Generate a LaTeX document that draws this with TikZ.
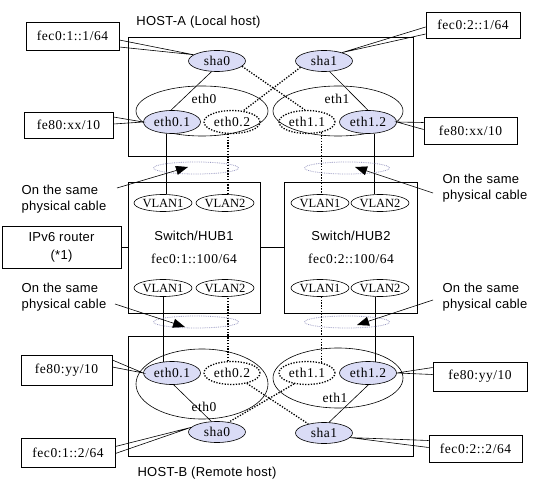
\documentclass[tikz,border=0pt]{standalone}
\usepackage{fontspec}
\setmainfont{Liberation Serif}[LetterSpace=4]
\newfontfamily\sansf{Liberation Sans}[LetterSpace=2]
\usetikzlibrary{shapes.geometric,arrows.meta}
\definecolor{lav}{RGB}{218,220,246}
\definecolor{cab}{RGB}{155,155,195}
\tikzset{
  every node/.style={inner sep=0pt},
  thinl/.style={line width=0.6pt},
  dotl/.style={line width=1.3pt,dash pattern=on 1.3pt off 1.5pt},
  box/.style={draw,line width=0.7pt,rectangle,fill=white},
  lbl/.style={box,font=\fontsize{13.5}{15}\selectfont},
  ipell/.style={ellipse,draw,line width=0.6pt,fill=lav,minimum width=57pt,minimum height=21pt,font=\fontsize{13.5}{15}\selectfont},
  vifon/.style={ellipse,draw,line width=0.6pt,fill=lav,minimum width=57pt,minimum height=23pt,font=\fontsize{13.5}{15}\selectfont},
  vifoff/.style={ellipse,draw,dotl,minimum width=56pt,minimum height=23pt,font=\fontsize{13.5}{15}\selectfont},
  phys/.style={ellipse,draw,line width=0.6pt},
  vlan/.style={ellipse,draw,line width=0.6pt,minimum width=48pt,minimum height=17pt,font=\fontsize{12.5}{14}\selectfont\addfontfeature{LetterSpace=0}},
  cable/.style={ellipse,draw=cab,line width=0.8pt,densely dotted,minimum width=85pt,minimum height=12pt},
  stxt/.style={font=\sansf\fontsize{13}{16}\selectfont},
  note/.style={stxt,align=left},
  arr/.style={line width=0.6pt,-{Triangle[length=12pt,width=9pt]}},
  serl/.style={font=\fontsize{13.5}{15}\selectfont},
}
\begin{document}
\begin{tikzpicture}[x=1pt,y=-1pt]
\useasboundingbox (0,0) rectangle (551,494);
% host boxes and switches
\node[box,minimum width=285pt,minimum height=119pt] (hosta) at (270.5,96.5) {};
\node[box,minimum width=285pt,minimum height=120pt] (hostb) at (270.5,396) {};
\node[stxt] (hostal) at (198.5,22) {HOST-A (Local host)};
\node[stxt] (hostbl) at (207,473) {HOST-B (Remote host)};
\node[box,minimum width=132pt,minimum height=131pt] (hub1) at (194,247.5) {};
\node[box,minimum width=133pt,minimum height=131pt] (hub2) at (350.5,247.5) {};
\node[stxt] (hub1n) at (194,236) {Switch/HUB1};
\node[serl] (hub1a) at (194,259) {fec0:1::100/64};
\node[stxt] (hub2n) at (351,236) {Switch/HUB2};
\node[serl] (hub2a) at (351,259) {fec0:2::100/64};
\node[box,minimum width=119pt,minimum height=42pt,stxt,align=center] (router) at (61.5,247) {IPv6 router\\[2pt](*1)};
\draw[thinl] (router.east) -- (router.east -| hub1.west);
\draw[thinl] (hub1.east) -- (hub2.west);
% VLANs
\node[vlan] (v11) at (163,203) {VLAN1};
\node[vlan] (v12) at (225,203) {VLAN2};
\node[vlan] (v21) at (320,203) {VLAN1};
\node[vlan] (v22) at (380,203) {VLAN2};
\node[vlan] (v13) at (163,288) {VLAN1};
\node[vlan] (v14) at (225,288) {VLAN2};
\node[vlan] (v23) at (320,288) {VLAN1};
\node[vlan] (v24) at (380,288) {VLAN2};
% HOST-A interfaces
\node[phys,minimum width=132pt,minimum height=50pt] (eth0a) at (202,111) {};
\node[phys,minimum width=130pt,minimum height=50pt] (eth1a) at (338,111) {};
\node[serl] (eth0al) at (204,99) {eth0};
\node[serl] (eth1al) at (337,99) {eth1};
\node[vifon] (eth01a) at (172,122) {eth0.1};
\node[vifoff] (eth02a) at (232,122) {eth0.2};
\node[vifoff] (eth11a) at (307,122) {eth1.1};
\node[vifon] (eth12a) at (368,122) {eth1.2};
\node[ipell] (sha0a) at (217,61) {sha0};
\node[ipell] (sha1a) at (324,61) {sha1};
\draw[thinl] (sha0a.243) -- (eth01a.95);
\draw[thinl] (sha1a.-62) -- (eth12a.90);
\draw[dotl] (sha0a.-12) -- (eth11a.100);
\draw[dotl] (sha1a.195) -- (eth02a.45);
% HOST-B interfaces
\node[phys,minimum width=132pt,minimum height=70pt] (eth0b) at (202,384) {};
\node[phys,minimum width=130pt,minimum height=60pt] (eth1b) at (338,378) {};
\node[serl] (eth0bl) at (204,407) {eth0};
\node[serl] (eth1bl) at (335,398) {eth1};
\node[vifon] (eth01b) at (172,373) {eth0.1};
\node[vifoff] (eth02b) at (232,373) {eth0.2};
\node[vifoff] (eth11b) at (307,373) {eth1.1};
\node[vifon] (eth12b) at (368,373) {eth1.2};
\node[ipell] (sha0b) at (217,432) {sha0};
\node[ipell] (sha1b) at (324,433) {sha1};
\draw[thinl] (eth01b.-82) -- (sha0b.118);
\draw[thinl] (eth12b.-88) -- (sha1b.65);
\draw[dotl] (eth02b.-35) -- (sha1b.150);
\draw[dotl] (eth11b.-140) -- (sha0b.40);
% vertical links
\draw[thinl] (eth01a.-118) -- (eth01a.-118 |- v11.north);
\draw[dotl] (eth02a.-109) -- (eth02a.-109 |- v12.north);
\draw[dotl] (eth11a.-36) -- (eth11a.-36 |- v21.north);
\draw[thinl] (eth12a.-62) -- (eth12a.-62 |- v22.north);
\draw[thinl] (eth01b.128) -- (eth01b.128 |- v13.south);
\draw[dotl] (eth02b.109) -- (eth02b.109 |- v14.south);
\draw[dotl] (eth11b.36) -- (eth11b.36 |- v23.south);
\draw[thinl] (eth12b.58) -- (eth12b.58 |- v24.south);
% cables
\node[cable] (cab1) at (196,168) {};
\node[cable] (cab2) at (347,168) {};
\node[cable] (cab3) at (196,322) {};
\node[cable] (cab4) at (347,322) {};
% notes
\node[note] (n1) at (64,199) {On the same\\physical cable};
\node[note] (n2) at (485,188) {On the same\\physical cable};
\node[note] (n3) at (64,297) {On the same\\physical cable};
\node[note] (n4) at (485,297) {On the same\\physical cable};
\coordinate (n1t) at (117,188);
\coordinate (n2t) at (433,193);
\coordinate (n3t) at (115,304);
\coordinate (n4t) at (433,300);
\draw[arr] (n1t) -- ([xshift=-8pt,yshift=1pt]cab1.center);
\draw[arr] (n2t) -- ([xshift=8pt,yshift=1pt]cab2.center);
\draw[arr] (n3t) -- ([xshift=-11pt,yshift=-5pt]cab3.center);
\draw[arr] (n4t) -- ([xshift=10pt,yshift=-3pt]cab4.center);
% address callouts
\node[lbl,minimum width=93pt,minimum height=28pt] (ba1) at (72.5,36) {fec0:1::1/64};
\node[lbl,minimum width=89pt,minimum height=26pt] (ba2) at (68.5,125) {fe80:xx/10};
\node[lbl,minimum width=94pt,minimum height=26pt] (ba3) at (473,25) {fec0:2::1/64};
\node[lbl,minimum width=93pt,minimum height=27pt] (ba4) at (470.5,130.5) {fe80:xx/10};
\node[lbl,minimum width=91pt,minimum height=30pt] (bb1) at (66.5,370) {fe80:yy/10};
\node[lbl,minimum width=94pt,minimum height=29pt] (bb2) at (68,452.5) {fec0:1::2/64};
\node[lbl,minimum width=94pt,minimum height=29pt] (bb3) at (480,376.5) {fe80:yy/10};
\node[lbl,minimum width=93pt,minimum height=27pt] (bb4) at (475.5,448.5) {fec0:2::2/64};
\draw[thinl] ([yshift=-4pt]ba1.east) -- (sha0a.165) -- ([yshift=-11pt]ba1.east);
\draw[thinl] ([yshift=8pt]ba2.east) -- (eth01a.west) -- ([yshift=1pt]ba2.east);
\draw[thinl] ([yshift=-2pt]ba3.west) -- (sha1a.25) -- ([yshift=-9pt]ba3.west);
\draw[thinl] ([yshift=8pt]ba4.west) -- (eth12a.east) -- ([yshift=1pt]ba4.west);
\draw[thinl] ([yshift=10pt]bb1.east) -- (eth01b.west) -- ([yshift=3pt]bb1.east);
\draw[thinl] ([yshift=6pt]bb2.east) -- (sha0b.170) -- ([yshift=-1pt]bb2.east);
\draw[thinl] ([yshift=9pt]bb3.west) -- (eth12b.east) -- ([yshift=2pt]bb3.west);
\draw[thinl] ([yshift=8pt]bb4.west) -- (sha1b.-10) -- ([yshift=1pt]bb4.west);
\end{tikzpicture}
\end{document}
